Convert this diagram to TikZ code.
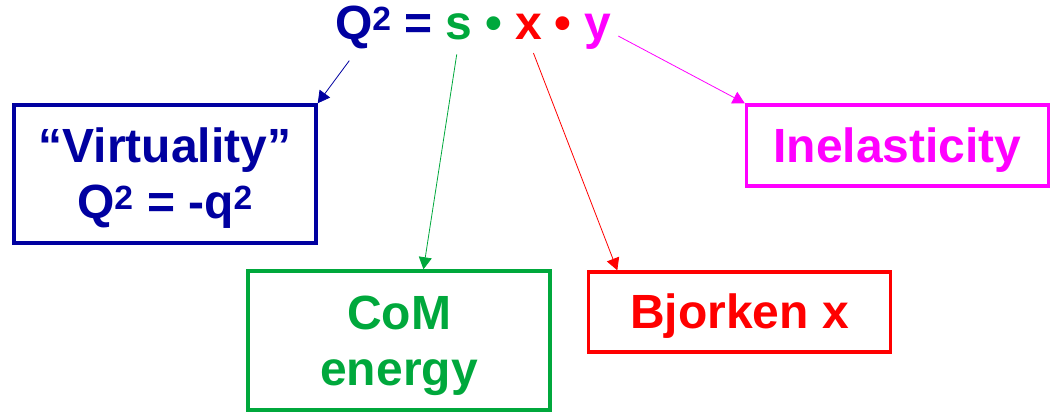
\documentclass[tikz,border=0pt]{standalone}
\usepackage{fontspec}
\setmainfont{Liberation Sans}
\usetikzlibrary{arrows.meta,positioning,calc}

\definecolor{virtblue}{RGB}{0,0,160}
\definecolor{comgreen}{RGB}{0,168,60}
\definecolor{bjred}{RGB}{255,0,0}
\definecolor{inelmag}{RGB}{255,0,255}

% line strut with the font's ascent and descent
\newcommand{\bstrut}{\rule[-0.212em]{0pt}{1.117em}}

\begin{document}
\begin{tikzpicture}[
  x=1pt, y=-1pt,
  >={Triangle[length=12pt,width=13pt]},
  every node/.style={font=\fontsize{48}{56}\selectfont\bfseries},
  term/.style={inner sep=0pt, outer sep=0pt},
  box/.style={draw, line width=3.5pt, align=center, inner sep=0pt,
              minimum width=302pt},
  link/.style={->, line width=0.8pt},
]
\useasboundingbox (0,0) rectangle (1052,412);

% the product formula on top
\node[term, text=virtblue, anchor=base west] (qsq) at (335,40) {Q\textsuperscript{2}};
\node[term, text=virtblue, base right=13pt of qsq] (eqsign) {=};
\node[term, text=comgreen, base right=13pt of eqsign] (sterm) {s};
\node[term, text=comgreen, base right=13pt of sterm] (dotA) {•};
\node[term, text=bjred, base right=13pt of dotA] (xterm) {x};
\node[term, text=bjred, base right=13pt of xterm] (dotB) {•};
\node[term, text=inelmag, base right=13pt of dotB] (yterm) {y};

% what each factor means
\node[box, draw=virtblue, text=virtblue, minimum height=138pt] (virt) at (165,174)
  {\bstrut“Virtuality”\\Q\textsuperscript{2} = -q\textsuperscript{2}\bstrut};
\node[box, draw=inelmag, text=inelmag, minimum height=81pt] (inel) at (897.5,145.5)
  {\bstrut Inelasticity};
\node[box, draw=bjred, text=bjred, minimum height=80pt] (bjork) at (739.5,312)
  {\bstrut Bjorken x};
\node[box, draw=comgreen, text=comgreen, minimum height=139pt] (com) at (399,340.5)
  {\bstrut CoM\\energy\bstrut};

\draw[link, virtblue, shorten <=14pt]
  ($(qsq.south west)!0.4!(qsq.south east)$) -- (virt.north east);
\draw[link, comgreen, shorten <=14pt]
  (sterm.south) -- ($(com.north west)!0.58!(com.north east)$);
\draw[link, bjred, shorten <=14pt]
  (xterm.south) -- ($(bjork.north west)!0.1!(bjork.north east)$);
\draw[link, inelmag, shorten <=8pt] (yterm.east) -- (inel.north west);
\end{tikzpicture}
\end{document}
